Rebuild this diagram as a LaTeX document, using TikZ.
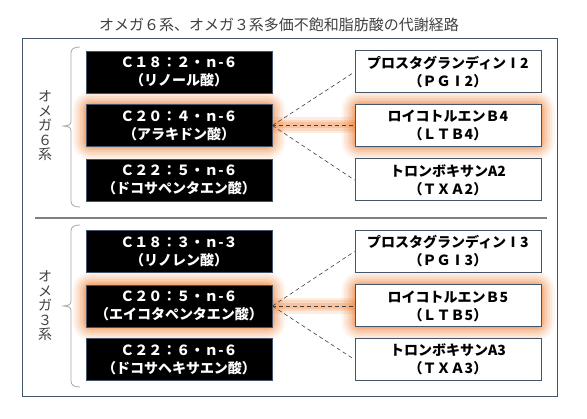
\documentclass[tikz,border=0pt]{standalone}
\usepackage{fontspec}
\setmainfont{Noto Sans CJK JP}
\pgfdeclarelayer{background}
\pgfsetlayers{background,main}

\definecolor{framegray}{HTML}{44546A}
\definecolor{glowor}{HTML}{ED7D31}
\definecolor{bracegray}{HTML}{A6A6A6}
\definecolor{titlegray}{HTML}{404040}

\tikzset{
  acid/.style={draw=framegray, fill=black, text=white, line width=0.8pt,
    minimum width=186pt, minimum height=42pt, inner sep=0pt, align=center,
    font=\bfseries\fontsize{14}{18}\selectfont},
  eico/.style={acid, fill=white, text=black, line width=1pt},
  link/.style={draw=black!75, line width=0.6pt, dash pattern=on 4pt off 3pt},
  grpbrace/.style={draw=bracegray, line width=0.8pt},
  grplabel/.style={text=titlegray, align=center, inner sep=0pt,
    font=\fontsize{14}{14.5}\selectfont},
}

% soft orange glow round a node
\newcommand{\glowbox}[1]{%
  \foreach \w/\o in {26/0.08, 21/0.1, 16/0.13, 11/0.16, 6/0.22, 2/0.3}
    \draw[glowor, line width=\w pt, opacity=\o, rounded corners=6pt]
      (#1.south west) rectangle (#1.north east);
}
% glow along the main route
\newcommand{\glowlink}[2]{%
  \foreach \w/\o in {16/0.14, 11/0.18, 6/0.24}
    \draw[glowor, line width=\w pt, opacity=\o, line cap=round]
      (#1.east) -- (#2.west);
}
% group brace: top, middle, bottom
\newcommand{\grpbr}[3]{%
  \draw[grpbrace] (80,#1) .. controls (74,#1) and (71,#1+2) .. (71,#1+6)
    -- (71,#2-5) .. controls (71,#2-1) and (68,#2) .. (62,#2)
    .. controls (68,#2) and (71,#2+1) .. (71,#2+5)
    -- (71,#3-6) .. controls (71,#3-2) and (74,#3) .. (80,#3);
}

\begin{document}
\begin{tikzpicture}[x=1pt, y=-1pt]
  \useasboundingbox (0,0) rectangle (587,419);

  \node[text=titlegray, font=\fontsize{15}{15}\selectfont] (title) at (279,25)
    {オメガ６系、オメガ３系多価不飽和脂肪酸の代謝経路};

  \draw[framegray, line width=1pt] (22,39) rectangle (557,397);
  \draw[gray, line width=1.2pt] (35,218) -- (547,218);

  % omega-6
  \node[acid] (o6a) at (179,72) {Ｃ１８：２・ｎ-６\\（リノール酸）};
  \node[acid] (o6b) at (179,125.5) {Ｃ２０：４・ｎ-６\\（アラキドン酸）};
  \node[acid] (o6c) at (179,180) {Ｃ２２：５・ｎ-６\\（ドコサペンタエン酸）};

  \node[eico] (o6pg) at (448,72) {プロスタグランディンⅠ2\\（ＰＧⅠ2）};
  \node[eico] (o6lt) at (448,125.5) {ロイコトルエンＢ4\\（ＬＴＢ4）};
  \node[eico] (o6tx) at (448,180) {トロンボキサンA2\\（ＴＸＡ2）};

  \grpbr{47}{126}{207}
  \node[grplabel] (o6lab) at (45,126) {オ\\メ\\ガ\\６\\系};

  % omega-3
  \node[acid] (o3a) at (179,251.5) {Ｃ１８：３・ｎ-３\\（リノレン酸）};
  \node[acid] (o3b) at (179,306) {Ｃ２０：５・ｎ-６\\（エイコタペンタエン酸）};
  \node[acid] (o3c) at (179,359.5) {Ｃ２２：６・ｎ-６\\（ドコサヘキサエン酸）};

  \node[eico] (o3pg) at (448,251.5) {プロスタグランディンⅠ3\\（ＰＧⅠ3）};
  \node[eico] (o3lt) at (448,306) {ロイコトルエンＢ5\\（ＬＴＢ5）};
  \node[eico] (o3tx) at (448,359.5) {トロンボキサンA3\\（ＴＸＡ3）};

  \grpbr{225}{306}{387}
  \node[grplabel] (o3lab) at (45,306) {オ\\メ\\ガ\\３\\系};

  \begin{pgfonlayer}{background}
    \glowbox{o6b} \glowbox{o6lt} \glowlink{o6b}{o6lt}
    \glowbox{o3b} \glowbox{o3lt} \glowlink{o3b}{o3lt}
  \end{pgfonlayer}

  \draw[link] (o6b.east) -- (o6pg.west);
  \draw[link, line width=0.9pt] (o6b.east) -- (o6lt.west);
  \draw[link] (o6b.east) -- (o6tx.west);
  \draw[link] (o3b.east) -- (o3pg.west);
  \draw[link, line width=0.9pt] (o3b.east) -- (o3lt.west);
  \draw[link] (o3b.east) -- (o3tx.west);
\end{tikzpicture}
\end{document}
